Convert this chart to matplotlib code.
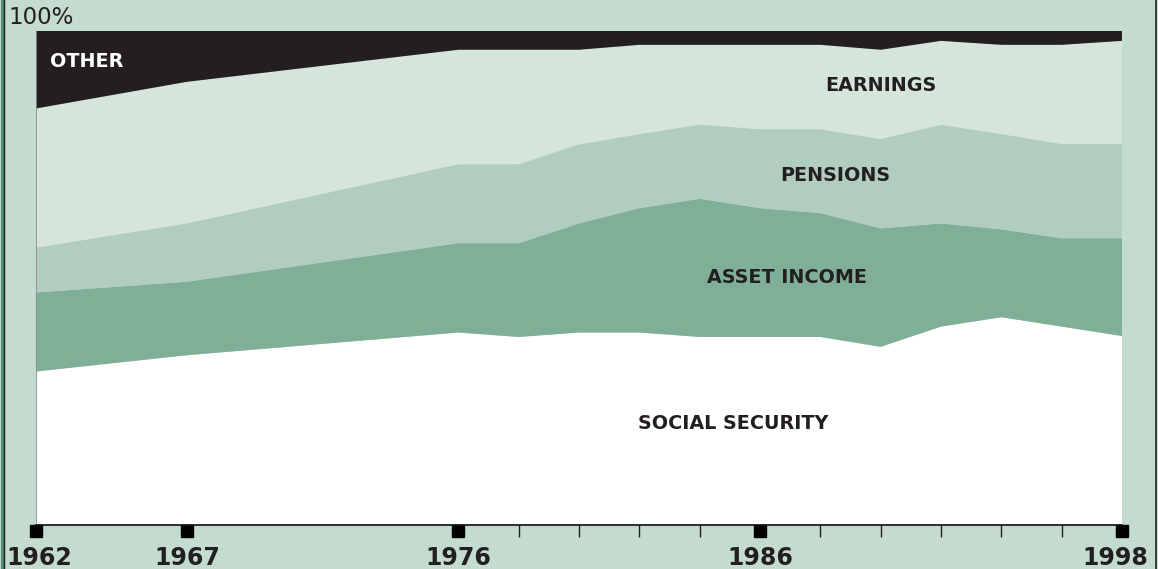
import matplotlib
matplotlib.use("Agg")
import matplotlib.pyplot as plt
import matplotlib.transforms as mtransforms
from matplotlib.lines import Line2D
import numpy as np

years = [1962, 1967, 1976, 1978, 1980, 1982, 1984, 1986, 1988, 1990, 1992, 1994, 1996, 1998]
social_security = [31.0, 34.3, 38.9, 38.0, 38.9, 38.9, 38.0, 38.0, 38.0, 36.0, 40.1, 42.0, 40.1, 38.2]
asset_income = [16.0, 14.9, 18.1, 19.0, 22.1, 25.2, 28.0, 26.1, 25.1, 24.0, 20.9, 17.8, 17.9, 19.8]
pensions = [9.1, 11.8, 16.0, 16.0, 16.0, 15.0, 15.0, 16.0, 17.0, 18.1, 20.0, 19.3, 19.1, 19.1]
earnings = [28.2, 28.7, 23.2, 23.2, 19.2, 18.1, 16.2, 17.1, 17.1, 18.1, 17.0, 18.1, 20.1, 20.9]
other = [15.7, 10.3, 3.8, 3.8, 3.8, 2.8, 2.8, 2.8, 2.8, 3.8, 2.0, 2.8, 2.8, 2.0]

series_names = ["SOCIAL SECURITY", "ASSET INCOME", "PENSIONS", "EARNINGS", "OTHER"]
major_years = [1962, 1967, 1976, 1986, 1998]
major_labels = ["1962", "1967", "1976", "1986", "1998"]
minor_years = [1978, 1980, 1982, 1984, 1988, 1990, 1992, 1994, 1996]

BG = "#c4dbcf"
colors = ["#ffffff", "#80af97", "#b0cdbf", "#d5e5dc", "#231f20"]

W, H = 1158, 569
fig = plt.figure(figsize=(W / 100, H / 100), dpi=100, facecolor=BG)
x0, x1, ytop, ybot = 36, 1122, 31, 524.5
ax = fig.add_axes([x0 / W, (H - ybot) / H, (x1 - x0) / W, (ybot - ytop) / H])
ax.set_facecolor(BG)

ax.stackplot(years, social_security, asset_income, pensions, earnings, other,
             colors=colors, linewidth=0, antialiased=True)
ax.set_xlim(1962, 1998)
ax.set_ylim(0, 100)

for s in ["top", "right"]:
    ax.spines[s].set_visible(False)
ax.spines["left"].set_color("#8a8a8a")
ax.spines["left"].set_linewidth(0.6)
ax.spines["bottom"].set_color("#111111")
ax.spines["bottom"].set_linewidth(1.2)
ax.set_yticks([])

ax.set_xticks(major_years, major_labels)
ax.set_xticks(minor_years, minor=True)
ax.tick_params(axis="x", which="major", length=0, pad=15.5,
               labelsize=17, labelcolor="#231f20")
ax.tick_params(axis="x", which="minor", length=8.5, width=1.0, color="#231f20")
for lab in ax.get_xticklabels():
    lab.set_fontweight("bold")
labs = ax.get_xticklabels()
labs[0].set_transform(labs[0].get_transform() + mtransforms.ScaledTranslation(3 / 100, 0, fig.dpi_scale_trans))
labs[-1].set_transform(labs[-1].get_transform() + mtransforms.ScaledTranslation(-7 / 100, 0, fig.dpi_scale_trans))

# square major tick marks
trans = mtransforms.blended_transform_factory(ax.transData, ax.transAxes)
ax.plot(major_years, [-6.0 / (ybot - ytop)] * len(major_years), linestyle="none",
        marker="s", markersize=9.2, color="#000000", transform=trans, clip_on=False)

# labels
fs = 13.8
lab_kw = dict(fontsize=fs, fontweight="bold", ha="center", va="center")
ax.text(1962.45, 93.8, "OTHER", color="white", fontsize=fs, fontweight="bold", ha="left", va="center")
ax.text(1990.0, 89.0, "EARNINGS", color="#231f20", **lab_kw)
ax.text(1988.5, 70.7, "PENSIONS", color="#231f20", **lab_kw)
ax.text(1986.9, 50.0, "ASSET INCOME", color="#231f20", **lab_kw)
ax.text(1985.1, 20.5, "SOCIAL SECURITY", color="#231f20", **lab_kw)

fig.text(8 / W, 1 - 18 / H, "100%", fontsize=16.5, color="#231f20", ha="left", va="center")

# frame edges
fig.add_artist(Line2D([1.5 / W, 1.5 / W], [0, 1], color="#4f8e6e", linewidth=2.2, transform=fig.transFigure))
fig.add_artist(Line2D([4 / W, 4 / W], [0, 1], color="#1a1a1a", linewidth=1.0, transform=fig.transFigure))
fig.add_artist(Line2D([1156 / W, 1156 / W], [0, 1], color="#3a3a3a", linewidth=1.4, transform=fig.transFigure))

fig.savefig("out.png", dpi=100, facecolor=BG)
